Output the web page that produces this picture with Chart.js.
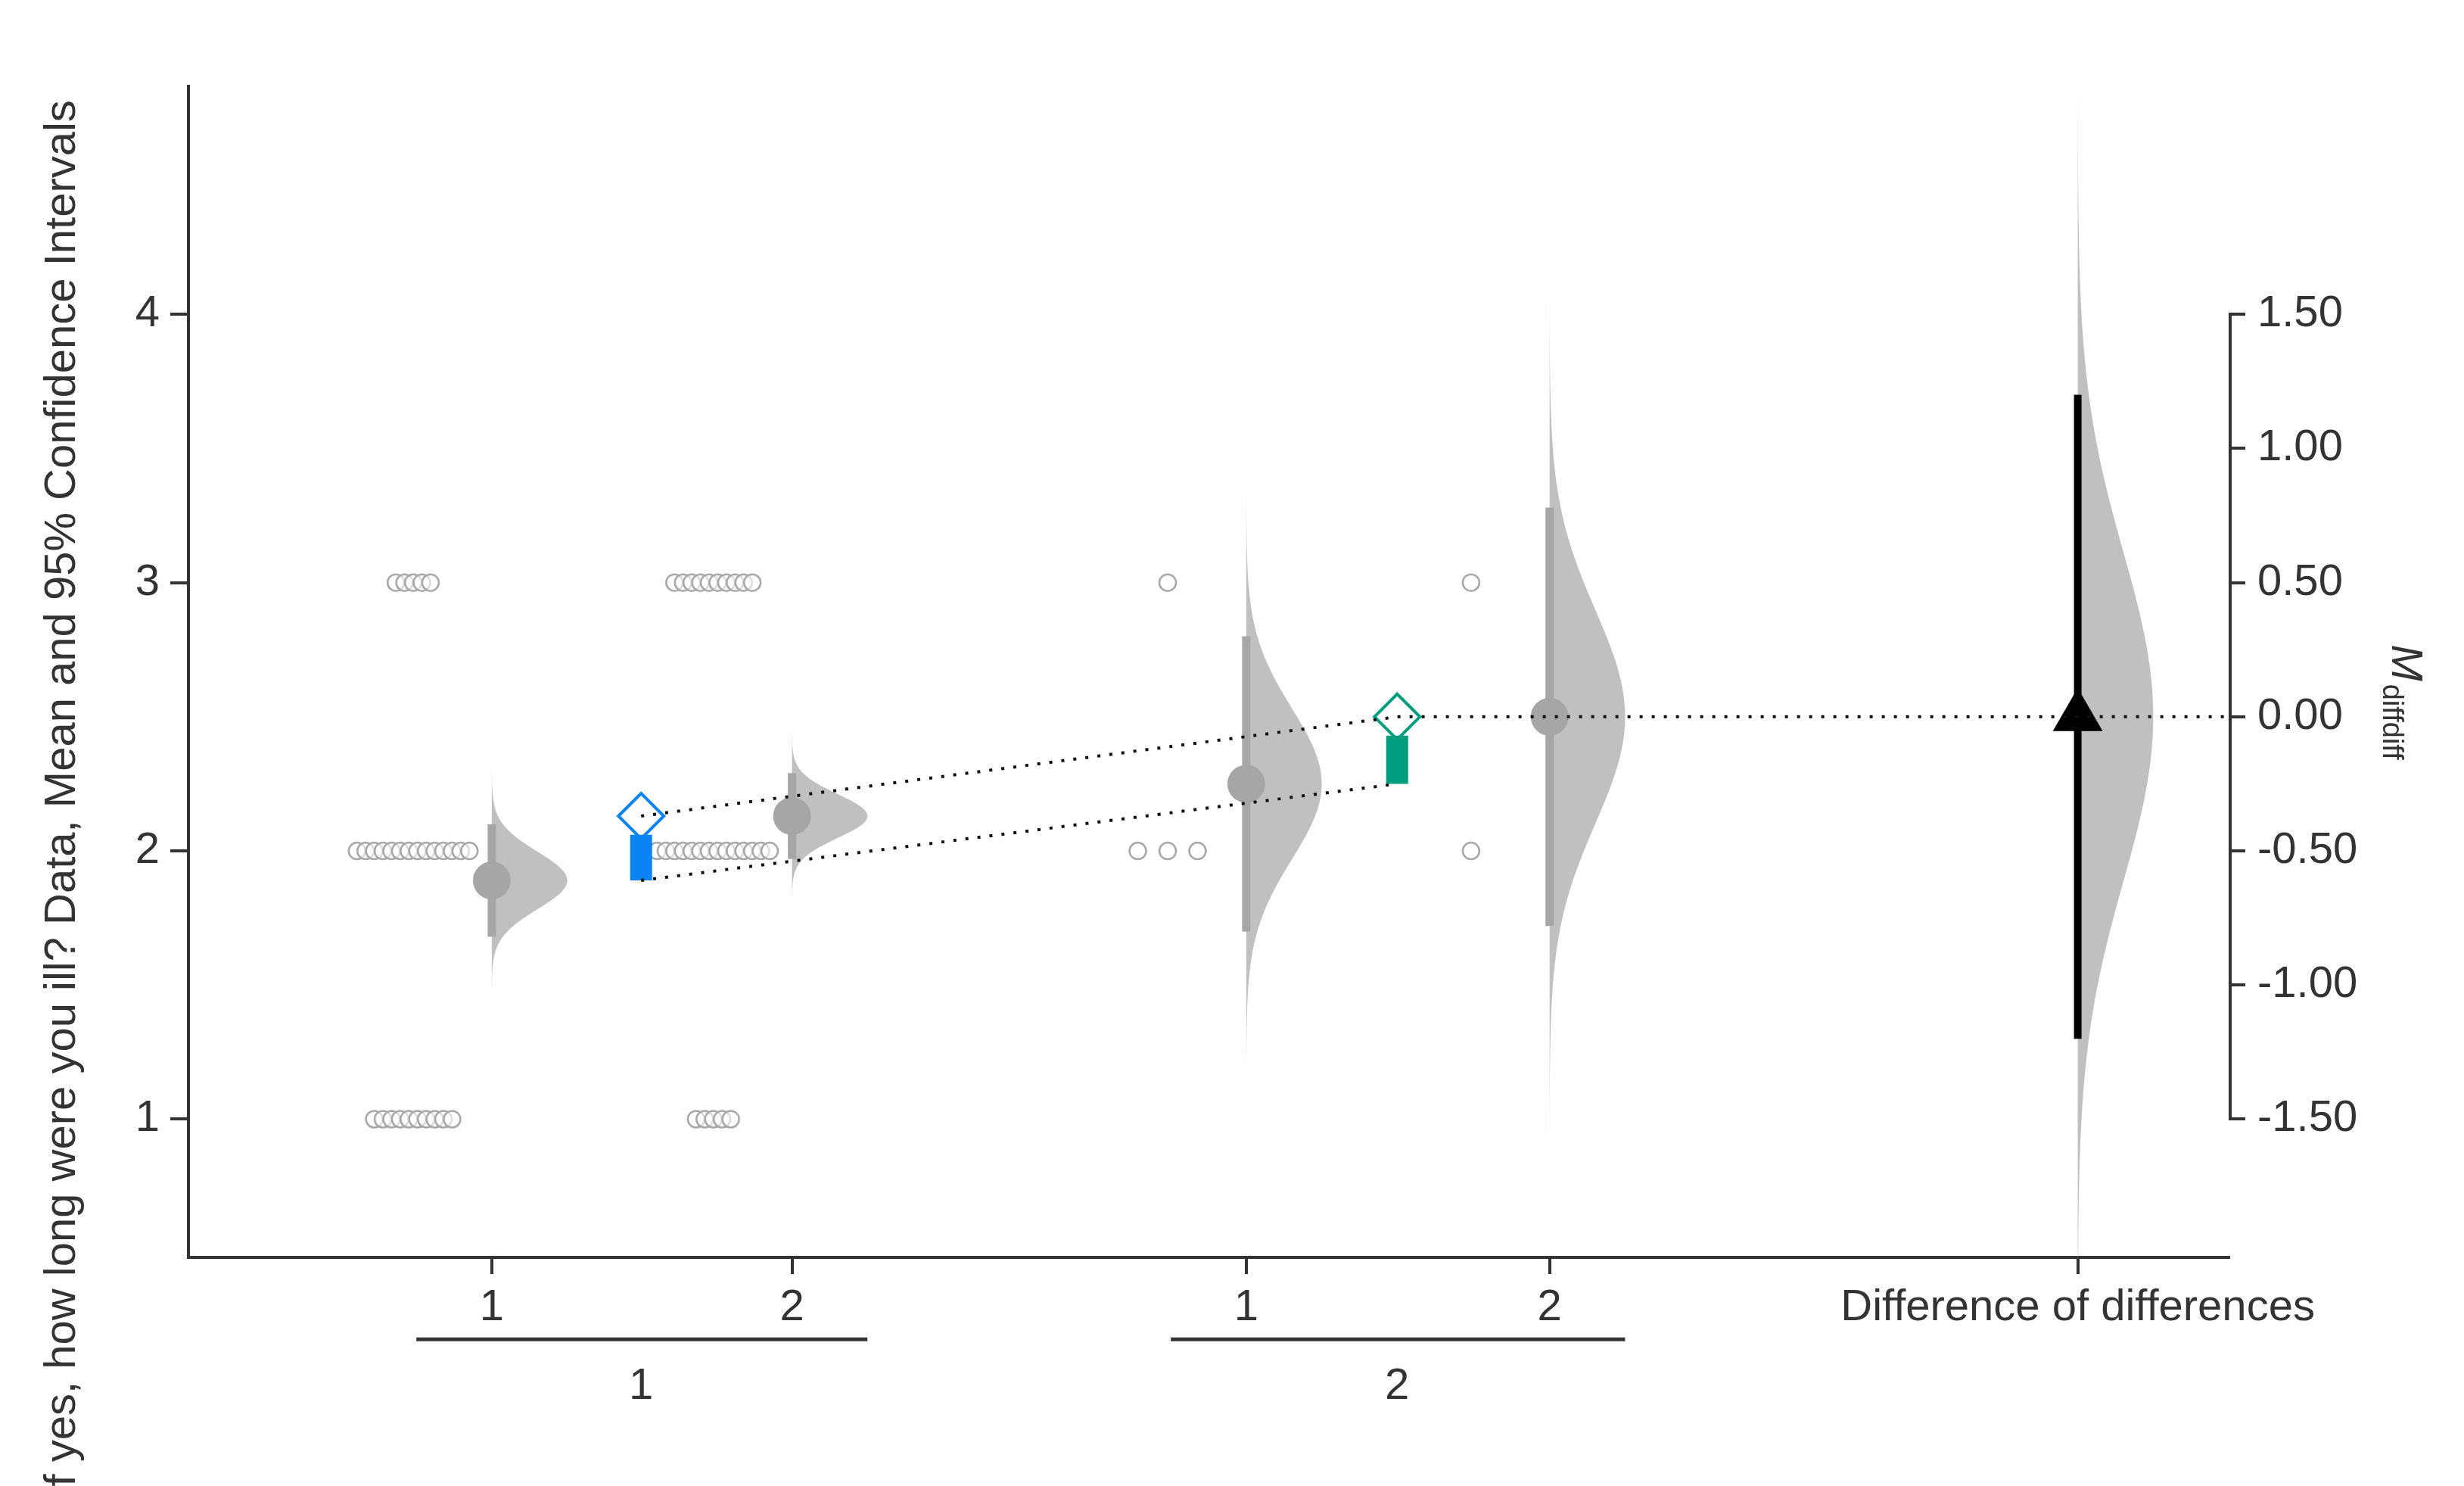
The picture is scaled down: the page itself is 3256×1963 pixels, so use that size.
<!DOCTYPE html>
<html><head><meta charset="utf-8">
<script src="https://cdn.jsdelivr.net/npm/chart.js@4/dist/chart.umd.min.js"></script>
<style>html,body{margin:0;padding:0;background:#fff}#wrap{width:3256px;height:1963px}</style>
</head><body><div id="wrap"><canvas id="c"></canvas></div>
<script>
// ---- data ----
const conditionLabels = ['1','2','1','2','Difference of differences'];
const groupLabels = ['1','2'];
const positions = [1.93, 3.84, 6.73, 8.66, 12.02];        // x-scale units
const diffPositions = [2.88, 7.69];
const means = [1.89, 2.13, 2.25, 2.50];
const ciLow = [1.68, 1.97, 1.70, 1.72];
const ciHigh = [2.10, 2.29, 2.80, 3.28];
const diffMeans = [0.24, 0.25];            // within-group differences
const diffDiffMean = 0.00;
const diffDiffCI = [-1.20, 1.20];
const yTicks = [1, 2, 3, 4];
const y2Ticks = [-1.5, -1.0, -0.5, 0, 0.5, 1.0, 1.5];
// raw responses per cell: [value, count]
const rawG1C1 = [[3,5],[2,14],[1,10]];
const rawG1C2 = [[3,10],[2,14],[1,5]];
const rawG2C1 = [[3,1],[2,3]];
const rawG2C2 = [[3,1],[2,1]];
const rawCells = [rawG1C1, rawG1C2, rawG2C1, rawG2C2];

const S = 3256/1568;
const FONT = '"Liberation Sans", Arial, sans-serif';
const FS = 58;
const GRAY = '#a6a6a6', VIOLIN = '#c0c0c0', BLUE = '#0a84f5', GREEN = '#009e7f';

// raw points (swarm around left of each cell)
const rawPts = [];
rawCells.forEach((cell, i) => {
  const center = positions[i] - 0.50;
  cell.forEach(([v, n]) => {
    const sp = n <= 3 ? 0.19 : 0.055;
    for (let k = 0; k < n; k++) rawPts.push({x: center + (k - (n-1)/2)*sp, y: v});
  });
});

const datasets = [];
datasets.push({type:'scatter', data: rawPts, pointRadius: 11, pointBorderWidth: 2.5,
  pointBorderColor:'#a8a8a8', pointBackgroundColor:'rgba(255,255,255,0.6)', order: 5});
for (let i = 0; i < 4; i++) {
  datasets.push({type:'line', data:[{x:positions[i],y:ciLow[i]},{x:positions[i],y:ciHigh[i]}],
    borderColor: GRAY, borderWidth: 11, pointRadius: 0, borderCapStyle:'butt', order: 3});
}
datasets.push({type:'scatter', data: positions.slice(0,4).map((p,i)=>({x:p,y:means[i]})),
  pointRadius: 25, pointBackgroundColor: GRAY, pointBorderWidth: 0, order: 2});
// difference bars + diamonds
const dcol = [BLUE, GREEN];
for (let g = 0; g < 2; g++) {
  const base = means[g*2], top = base + diffMeans[g];
  datasets.push({type:'line', data:[{x:diffPositions[g],y:base},{x:diffPositions[g],y:top-0.07}],
    borderColor: dcol[g], borderWidth: 29, pointRadius: 0, borderCapStyle:'butt', order: 2});
  datasets.push({type:'scatter', data:[{x:diffPositions[g], y: top}], pointStyle:'rectRot',
    pointRadius: 30, pointBorderColor: dcol[g], pointBorderWidth: 4,
    pointBackgroundColor:'rgba(255,255,255,0)', order: 1});
}
// dotted connectors
const dash = {borderColor:'#111', borderWidth: 4, borderDash:[4,12], pointRadius:0, order:0};
datasets.push(Object.assign({type:'line', data:[{x:diffPositions[0],y:means[1]},{x:diffPositions[1],y:means[3]},{x:12.98,y:means[3]}]}, dash));
datasets.push(Object.assign({type:'line', data:[{x:diffPositions[0],y:means[0]},{x:diffPositions[1],y:means[2]}]}, dash));
// diff of diffs
datasets.push({type:'line', yAxisID:'y2', data:[{x:positions[4],y:diffDiffCI[0]},{x:positions[4],y:diffDiffCI[1]}],
  borderColor:'#000', borderWidth: 10, pointRadius:0, borderCapStyle:'butt', order: 1});
datasets.push({type:'scatter', yAxisID:'y2', data:[{x:positions[4], y:diffDiffMean}], pointStyle:'triangle',
  pointRadius: 38, pointBackgroundColor:'#000', pointBorderWidth:0, order: 0});

function gauss(z){ return Math.exp(-0.5*z*z); }
const violinPlugin = {
  id:'violins',
  beforeDatasetsDraw(chart){
    const {ctx, scales:{x, y, y2}, chartArea} = chart;
    ctx.save();
    ctx.beginPath(); ctx.rect(chartArea.left, chartArea.top, chartArea.right-chartArea.left, chartArea.bottom-chartArea.top); ctx.clip();
    const W = 0.48;
    const cells = [];
    for (let i=0;i<4;i++) cells.push({p:positions[i], m:means[i], sd:(ciHigh[i]-ciLow[i])/2/1.96, sc:y});
    cells.push({p:positions[4], m:diffDiffMean, sd:(diffDiffCI[1]-diffDiffCI[0])/2/1.96, sc:y2});
    cells.forEach(c => {
      ctx.beginPath();
      const x0 = x.getPixelForValue(c.p);
      ctx.moveTo(x0, c.sc.getPixelForValue(c.m-4.2*c.sd));
      for (let k=0;k<=200;k++){
        const z = -4.2 + 8.4*k/200;
        ctx.lineTo(x.getPixelForValue(c.p + W*gauss(z)), c.sc.getPixelForValue(c.m + z*c.sd));
      }
      ctx.lineTo(x0, c.sc.getPixelForValue(c.m+4.2*c.sd));
      ctx.closePath();
      ctx.fillStyle = VIOLIN; ctx.fill();
    });
    ctx.restore();
  },
  afterDraw(chart){
    const {ctx, scales:{x, y, y2}} = chart;
    ctx.save();
    ctx.fillStyle = '#333'; ctx.strokeStyle = '#333';
    ctx.font = FS+'px '+FONT; ctx.textAlign='center'; ctx.textBaseline='middle';
    // group lines + labels
    [[0,1],[2,3]].forEach((pr,g)=>{
      const a = x.getPixelForValue(positions[pr[0]]) - 48*S, b = x.getPixelForValue(positions[pr[1]]) + 48*S;
      ctx.lineWidth = 5; ctx.beginPath(); ctx.moveTo(a, 852*S); ctx.lineTo(b, 852*S); ctx.stroke();
      ctx.fillText(groupLabels[g], x.getPixelForValue(diffPositions[g]), 882*S);
    });
    // right axis line
    ctx.lineWidth = 4; ctx.beginPath();
    const rx = y2.left + 2;
    ctx.moveTo(rx, y2.getPixelForValue(1.5)); ctx.lineTo(rx, y2.getPixelForValue(-1.5)); ctx.stroke();
    // y title
    const title = 'If yes, how long were you ill? Data, Mean and 95% Confidence Intervals';
    ctx.save(); ctx.translate(40*S, 930*S + ctx.measureText('If ').width); ctx.rotate(-Math.PI/2);
    ctx.textAlign='left'; ctx.fillText(title, 0, 0); ctx.restore();
    // right title
    ctx.save(); ctx.translate(1530*S, 410*S); ctx.rotate(Math.PI/2);
    ctx.textAlign='left'; ctx.font = 'italic '+FS+'px '+FONT; ctx.fillText('M', 0, 0);
    const mw = ctx.measureText('M').width;
    ctx.font = '38px '+FONT; ctx.fillText('diffdiff', mw+4, 18);
    ctx.restore();
    ctx.restore();
  }
};

new Chart(document.getElementById('c'), {
  data: {datasets},
  plugins:[violinPlugin],
  options: {
    responsive:true, maintainAspectRatio:false, animation:false,
    layout:{padding:{top:114, left:0, right:0, bottom:0}},
    plugins:{legend:{display:false}, tooltip:{enabled:false}},
    scales:{
      x:{type:'linear', min:0, max:12.98,
        afterFit(s){ s.height = 1963-1661-0; },
        afterBuildTicks(s){ s.ticks = positions.map(v=>({value:v})); },
        ticks:{autoSkip:false, maxRotation:0, color:'#333', font:{size:FS, family:FONT}, padding:10,
          callback:(v,i)=>conditionLabels[i]},
        grid:{drawOnChartArea:false, drawTicks:true, tickLength:22, color:'#333', lineWidth:4},
        border:{color:'#333', width:4}},
      y:{type:'linear', position:'left', min:0.485, max:4.85,
        afterFit(s){ s.width = 249; },
        afterBuildTicks(s){ s.ticks = yTicks.map(v=>({value:v})); },
        ticks:{color:'#333', font:{size:FS, family:FONT}, padding:14},
        grid:{drawOnChartArea:false, drawTicks:true, tickLength:24, color:'#333', lineWidth:4},
        border:{color:'#333', width:4}},
      y2:{type:'linear', position:'right', min:0.485-2.5, max:4.85-2.5,
        afterFit(s){ s.width = 3256-2945; },
        afterBuildTicks(s){ s.ticks = y2Ticks.map(v=>({value:v})); },
        ticks:{color:'#333', font:{size:FS, family:FONT}, padding:16, callback:v=>v.toFixed(2)},
        grid:{drawOnChartArea:false, drawTicks:true, tickLength:22, color:'#333', lineWidth:4},
        border:{display:false}}
    }
  }
});
</script></body></html>
